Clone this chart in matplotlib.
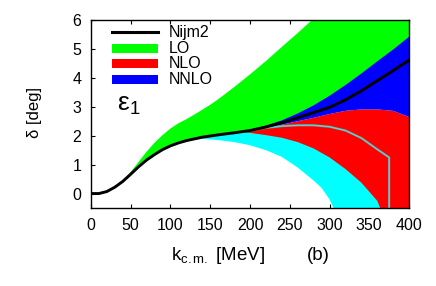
import numpy as np
import matplotlib
matplotlib.use("Agg")
import matplotlib.pyplot as plt
from matplotlib.patches import Rectangle
from matplotlib.lines import Line2D

plt.rcParams['font.family'] = ['Liberation Sans', 'DejaVu Sans']
plt.rcParams['mathtext.fontset'] = 'custom'
plt.rcParams['mathtext.rm'] = 'Liberation Sans'
plt.rcParams['mathtext.it'] = 'Liberation Sans'

# ---- data ----
nijm2_x = [0, 10, 20, 30, 40, 50, 60, 70, 80, 90, 100, 110, 120, 140, 160, 180,
           200, 220, 240, 260, 280, 300, 320, 340, 360, 380, 400]
nijm2_y = [0, 0.0, 0.07, 0.22, 0.42, 0.67, 0.93, 1.16, 1.35, 1.52, 1.65, 1.75, 1.83,
           1.95, 2.03, 2.1, 2.18, 2.3, 2.45, 2.62, 2.8, 2.98, 3.24, 3.55, 3.9, 4.25, 4.61]

lo_hi_x = [35, 40, 50, 60, 70, 80, 90, 100, 110, 120, 130, 140, 150, 160, 180, 200,
           220, 240, 260, 280, 300, 340, 400]
lo_hi_y = [0.3, 0.45, 0.75, 1.1, 1.45, 1.76, 2.02, 2.25, 2.43, 2.57, 2.73, 2.9, 3.07,
           3.26, 3.68, 4.12, 4.58, 5.07, 5.55, 6.05, 6.6, 7.8, 9.6]
lo_lo_x = [35, 40, 50, 60, 70, 80, 90, 100, 110, 120, 140, 160, 180, 200, 220, 240,
           260, 280, 300, 320, 340, 360, 380, 400]
lo_lo_y = [0.3, 0.43, 0.68, 0.94, 1.17, 1.36, 1.53, 1.66, 1.76, 1.84, 1.96, 2.04, 2.11,
           2.19, 2.31, 2.46, 2.63, 2.81, 2.99, 3.25, 3.56, 3.91, 4.26, 4.62]

band_hi_x = [120, 140, 160, 180, 200, 220, 240, 260, 280, 300, 320, 340, 360, 375, 375]
band_hi_y = [1.83, 1.95, 2.03, 2.1, 2.17, 2.27, 2.33, 2.36, 2.36, 2.31, 2.18, 1.92,
             1.53, 1.25, -1.0]
band_lo_x = [120, 140, 160, 180, 200, 220, 240, 260, 280, 290, 300, 305, 310]
band_lo_y = [1.82, 1.89, 1.85, 1.78, 1.67, 1.5, 1.27, 0.9, 0.45, 0.2, -0.2, -0.5, -0.8]

nlo_hi_x = [190, 200, 220, 240, 260, 280, 300, 320, 340, 360, 380, 400]
nlo_hi_y = [2.14, 2.18, 2.28, 2.38, 2.5, 2.62, 2.75, 2.86, 2.91, 2.91, 2.86, 2.65]
nlo_lo_x = [190, 200, 220, 240, 260, 280, 300, 320, 340, 360, 370, 400]
nlo_lo_y = [2.13, 2.1, 2.02, 1.93, 1.78, 1.56, 1.25, 0.85, 0.38, -0.25, -0.9, -1.0]

nnlo_hi_x = [195, 200, 220, 240, 260, 280, 300, 320, 340, 360, 380, 400]
nnlo_hi_y = [2.17, 2.2, 2.35, 2.53, 2.77, 3.05, 3.38, 3.75, 4.15, 4.57, 4.98, 5.42]

x_ticks = [0, 50, 100, 150, 200, 250, 300, 350, 400]
y_ticks = [0, 1, 2, 3, 4, 5, 6]

legend_labels = ['Nijm2', 'LO', 'NLO', 'NNLO']
legend_colors = ['black', '#00ff00', '#ff0000', '#0000ff']


def band(ax, xh, yh, xl, yl, color, z):
    px = np.concatenate([np.asarray(xh, float), np.asarray(xl, float)[::-1]])
    py = np.concatenate([np.asarray(yh, float), np.asarray(yl, float)[::-1]])
    ax.fill(px, py, color=color, lw=0, zorder=z)


fig = plt.figure(figsize=(4.36, 2.86), dpi=100)
ax = fig.add_axes([0.2087, 0.2727, 0.7294, 0.6573])
ax.set_axisbelow(True)

band(ax, lo_hi_x, lo_hi_y, lo_lo_x, lo_lo_y, '#00ff00', 1.0)
band(ax, band_hi_x, band_hi_y, band_lo_x, band_lo_y, '#00ffff', 1.1)
band(ax, nlo_hi_x, nlo_hi_y, nlo_lo_x, nlo_lo_y, '#ff0000', 1.2)
band(ax, nnlo_hi_x, nnlo_hi_y, nlo_hi_x, nlo_hi_y, '#0000ff', 1.3)
ax.plot(band_hi_x[4:], band_hi_y[4:], color='#7f9f9f', lw=1.5, zorder=1.4,
        solid_joinstyle='round')
ax.plot(band_hi_x[4:], band_hi_y[4:], color='#40e8e8', lw=0.6, zorder=1.45,
        solid_joinstyle='round')
ax.plot(nijm2_x, nijm2_y, color='black', lw=2.1, zorder=1.5)

ax.set_xlim(0, 400)
ax.set_ylim(-0.5, 6)
ax.set_xticks(x_ticks)
ax.set_yticks(y_ticks)
ax.tick_params(direction='in', length=3, width=0.8, top=True, right=True,
               labelsize=11.5, pad=7)
for s in ax.spines.values():
    s.set_linewidth(1.0)
    s.set_zorder(3)

# legend (manual, tight gnuplot-like spacing)
rows = [0.936, 0.851, 0.769, 0.684]
for i, (lab, col) in enumerate(zip(legend_labels, legend_colors)):
    yy = rows[i]
    if i == 0:
        ax.add_line(Line2D([0.066, 0.211], [yy, yy], color=col, lw=2.2,
                           transform=ax.transAxes, zorder=4))
    else:
        ax.add_patch(Rectangle((0.066, yy - 0.024), 0.145, 0.048, color=col, lw=0,
                               transform=ax.transAxes, zorder=4))
    ax.text(0.245, yy, lab, transform=ax.transAxes, fontsize=11.5,
            va='center', ha='left', zorder=5)

ax.text(0.083, 0.55, r'$\mathrm{ε}_1$', transform=ax.transAxes, fontsize=19,
        va='center', ha='left')

fig.text(218 / 436, 1 - 256 / 286, r'k$_\mathrm{c.m.}$ [MeV]', fontsize=13.5,
         ha='center', va='center')
fig.text(318 / 436, 1 - 256 / 286, '(b)', fontsize=13.5, ha='center', va='center')
fig.text(34 / 436, 1 - 112 / 286, 'δ [deg]', fontsize=12, rotation=90,
         ha='center', va='center')

fig.savefig('out.png', dpi=100)
